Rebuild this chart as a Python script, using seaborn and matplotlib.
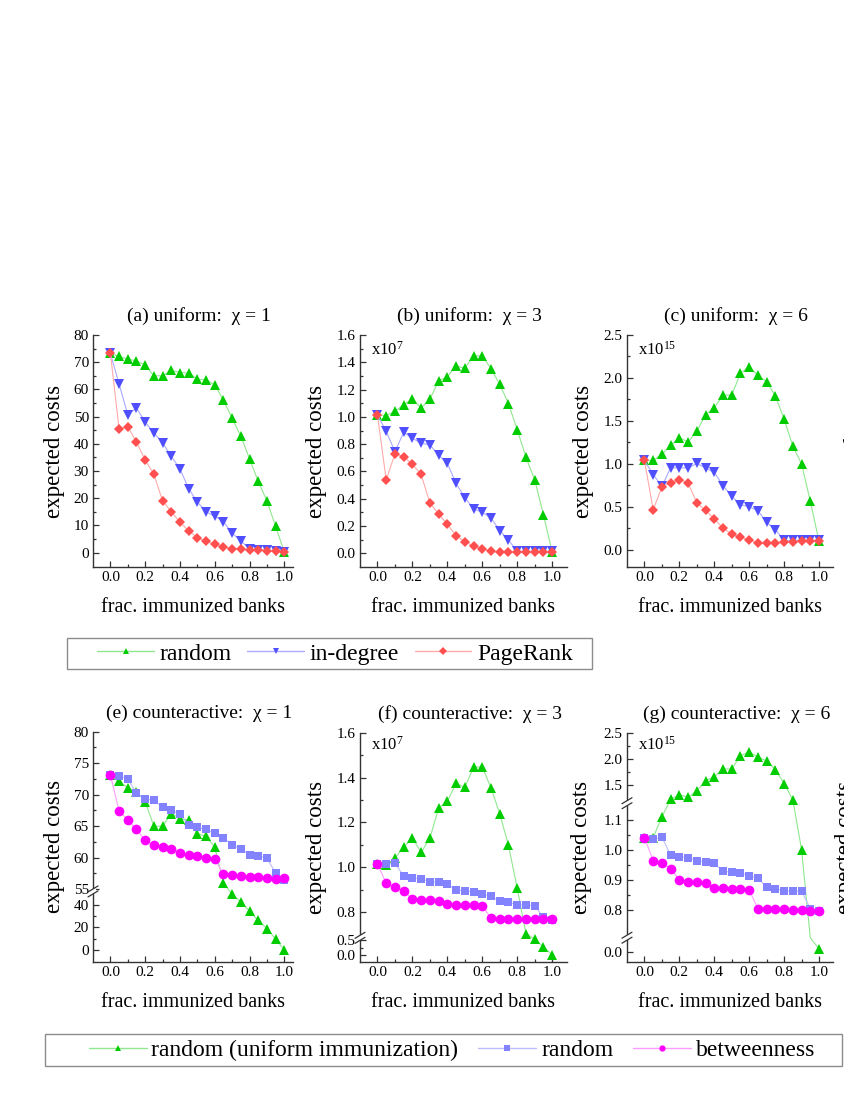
import matplotlib
matplotlib.use("Agg")
import numpy as np
import matplotlib.pyplot as plt
import seaborn as sns
from matplotlib.lines import Line2D
from matplotlib.patches import Rectangle

sns.set_style("ticks")
plt.rcParams["font.family"] = ["Liberation Serif", "DejaVu Serif"]
plt.rcParams["mathtext.fontset"] = "custom"
plt.rcParams["mathtext.rm"] = "Liberation Serif"
plt.rcParams["mathtext.default"] = "regular"
for k in ["text.color", "axes.labelcolor", "xtick.color", "ytick.color"]:
    plt.rcParams[k] = "black"

# ---- data ----
frac = [0.0, 0.05, 0.1, 0.15, 0.2, 0.25, 0.3, 0.35, 0.4, 0.45, 0.5,
        0.55, 0.6, 0.65, 0.7, 0.75, 0.8, 0.85, 0.9, 0.95, 1.0]

# chi = 1
rand_chi1 = [73.2, 72.1, 71.1, 70.5, 68.9, 65.0, 65.0, 67.0, 66.2, 66.0, 63.8,
             63.4, 61.7, 56.0, 49.4, 42.8, 34.5, 26.2, 19.0, 9.7, 0.2]
indeg_chi1 = [73.2, 62.0, 50.7, 53.2, 48.0, 44.0, 40.4, 35.4, 30.8, 23.5, 18.6,
              15.0, 13.3, 11.4, 7.1, 4.4, 1.2, 1.0, 0.8, 0.6, 0.2]
pagerank_chi1 = [73.2, 45.5, 46.3, 40.6, 34.0, 28.8, 19.0, 15.1, 11.1, 8.0, 5.5,
                 4.1, 3.0, 2.0, 1.5, 1.2, 1.0, 0.9, 0.6, 0.5, 0.1]
randsq_chi1 = [73.2, 73.0, 72.5, 70.2, 69.3, 69.1, 68.0, 67.6, 66.9, 65.2, 64.8,
               64.5, 63.9, 63.2, 62.0, 61.4, 60.5, 60.3, 59.9, 57.6, 56.4]
betw_chi1 = [73.2, 67.4, 66.0, 64.5, 62.8, 62.0, 61.7, 61.4, 60.8, 60.4, 60.3,
             60.0, 59.8, 57.4, 57.2, 57.1, 57.0, 56.9, 56.7, 56.6, 56.7]

# chi = 3  (x 1e7)
rand_chi3 = [1.015, 1.01, 1.04, 1.09, 1.13, 1.066, 1.13, 1.263, 1.295, 1.374, 1.356,
             1.447, 1.447, 1.354, 1.238, 1.098, 0.906, 0.704, 0.54, 0.283, 0.01]
indeg_chi3 = [1.015, 0.894, 0.746, 0.886, 0.844, 0.807, 0.795, 0.721, 0.66, 0.512, 0.409,
              0.327, 0.30, 0.26, 0.167, 0.098, 0.015, 0.015, 0.015, 0.015, 0.015]
pagerank_chi3 = [1.015, 0.537, 0.729, 0.709, 0.652, 0.578, 0.369, 0.29, 0.212, 0.13, 0.084,
                 0.054, 0.032, 0.015, 0.007, 0.007, 0.007, 0.007, 0.007, 0.007, 0.007]
randsq_chi3 = [1.015, 1.014, 1.017, 0.962, 0.952, 0.948, 0.936, 0.933, 0.925, 0.899, 0.894,
               0.891, 0.881, 0.871, 0.849, 0.844, 0.832, 0.832, 0.827, 0.778, 0.763]
betw_chi3 = [1.015, 0.928, 0.911, 0.896, 0.859, 0.852, 0.852, 0.849, 0.834, 0.832, 0.830,
             0.830, 0.827, 0.773, 0.770, 0.770, 0.770, 0.770, 0.767, 0.767, 0.767]

# chi = 6  (x 1e15)
rand_chi6 = [1.04, 1.04, 1.11, 1.215, 1.305, 1.254, 1.382, 1.57, 1.655, 1.80, 1.80,
             2.056, 2.13, 2.03, 1.955, 1.79, 1.52, 1.207, 1.0, 0.565, 0.1]
indeg_chi6 = [1.04, 0.876, 0.74, 0.954, 0.954, 0.954, 1.005, 0.954, 0.90, 0.748, 0.623,
              0.526, 0.50, 0.456, 0.32, 0.234, 0.11, 0.11, 0.11, 0.11, 0.11]
pagerank_chi6 = [1.04, 0.467, 0.73, 0.78, 0.818, 0.78, 0.545, 0.46, 0.358, 0.253, 0.183,
                 0.144, 0.117, 0.078, 0.078, 0.078, 0.086, 0.093, 0.097, 0.097, 0.097]
randsq_chi6 = [1.04, 1.035, 1.042, 0.982, 0.976, 0.974, 0.963, 0.960, 0.955, 0.928, 0.925,
               0.923, 0.912, 0.905, 0.875, 0.870, 0.862, 0.862, 0.862, 0.803, 0.795]
betw_chi6 = [1.04, 0.964, 0.955, 0.937, 0.899, 0.891, 0.891, 0.890, 0.873, 0.873, 0.870,
             0.869, 0.866, 0.803, 0.803, 0.802, 0.802, 0.800, 0.798, 0.797, 0.797]

xticks = [0.0, 0.2, 0.4, 0.6, 0.8, 1.0]
xtick_labels = ["0.0", "0.2", "0.4", "0.6", "0.8", "1.0"]
xticks_minor = [0.1, 0.3, 0.5, 0.7, 0.9]

top_labels = ["random", "in-degree", "PageRank"]
bottom_labels = ["random (uniform immunization)", "random", "betweenness"]

# ---- colours ----
GREEN_M, GREEN_L = "#00cc00", "#8fe88f"
BLUE_M, BLUE_L = "#4f4fff", "#aaaaff"
RED_M, RED_L = "#ff4f4f", "#ffaaaa"
PURP_M, PURP_L = "#8383ff", "#bdbdff"
MAG_M, MAG_L = "#ff00ff", "#ff9cff"
AX_C = "#333333"

W, H = 845, 1093
fig = plt.figure(figsize=(W / 100, H / 100), dpi=100)


def add_ax(l, t, r, b):
    return fig.add_axes([l / W, 1 - b / H, (r - l) / W, (b - t) / H])


def piecewise(vals, pix):
    def make(a, b):
        a = np.asarray(a, float)
        b = np.asarray(b, float)
        s0 = (b[1] - b[0]) / (a[1] - a[0])
        s1 = (b[-1] - b[-2]) / (a[-1] - a[-2])

        def f(v):
            v = np.asarray(v, float)
            out = np.interp(v, a, b)
            out = np.where(v < a[0], b[0] + (v - a[0]) * s0, out)
            out = np.where(v > a[-1], b[-1] + (v - a[-1]) * s1, out)
            return out
        return f
    return make(vals, pix), make(pix, vals)


def series(ax, y, line_c, mark_c, marker, ms, gaps=()):
    sns.lineplot(x=frac, y=y, ax=ax, color=line_c, linewidth=0.8, errorbar=None)
    # markers that fall inside an axis break are not shown
    keep = [not any(lo < v < hi for lo, hi in gaps) for v in y]
    xs = [x for x, k in zip(frac, keep) if k]
    ys = [v for v, k in zip(y, keep) if k]
    sns.lineplot(x=xs, y=ys, ax=ax, color=mark_c, linestyle="", marker=marker,
                 markersize=ms, markeredgewidth=0, errorbar=None)


def style(ax, title, xmax, ylab_x, hpx):
    ax.set_xlim(-0.1, xmax)
    ax.set_xticks(xticks, labels=xtick_labels)
    ax.set_xticks(xticks_minor, minor=True)
    sns.despine(ax=ax)
    for s in ("left", "bottom"):
        ax.spines[s].set_color(AX_C)
        ax.spines[s].set_linewidth(1.0)
    ax.tick_params(which="both", direction="in", color=AX_C, width=0.9,
                   labelsize=11, pad=3)
    ax.tick_params(which="major", length=4)
    ax.tick_params(which="minor", length=2.5)
    ax.set_xlabel("frac. immunized banks", fontsize=14.5)
    ax.xaxis.set_label_coords(0.5, -31 / hpx)
    ax.set_ylabel("expected costs", fontsize=16.5)
    ax.yaxis.set_label_coords(ylab_x, 0.5)
    ax.set_title(title, fontsize=14, pad=10, x=0.53)


def break_mark(ax, yv):
    x0, y0 = ax.get_yaxis_transform().transform((0, yv))
    to_fig = fig.transFigure.inverted()
    g0 = to_fig.transform((x0 - 3, y0 - 2.5))
    g1 = to_fig.transform((x0 + 3, y0 + 2.5))
    fig.add_artist(Rectangle(g0, g1[0] - g0[0], g1[1] - g0[1], facecolor="white",
                             edgecolor="none", zorder=5))
    for dy in (-2.5, 2.5):
        p = to_fig.transform([(x0 - 5, y0 + dy - 3), (x0 + 5, y0 + dy + 3)])
        fig.add_artist(Line2D(p[:, 0], p[:, 1], color=AX_C, lw=0.9, zorder=6))


def top_panel(box, title, xmax, ylab_x, d_rand, d_indeg, d_pr, ylim, yt, ytl, ytm, mult=None):
    ax = add_ax(*box)
    series(ax, d_rand, GREEN_L, GREEN_M, "^", 7.5)
    series(ax, d_indeg, BLUE_L, BLUE_M, "v", 7.5)
    series(ax, d_pr, RED_L, RED_M, "D", 5.0)
    style(ax, title, xmax, ylab_x, box[3] - box[1])
    ax.set_ylim(*ylim)
    ax.set_yticks(yt, labels=ytl)
    ax.set_yticks(ytm, minor=True)
    if mult:
        ax.text(0.055, 0.975, "x10$^{%s}$" % mult, transform=ax.transAxes,
                ha="left", va="top", fontsize=12)
    return ax


def bottom_panel(box, title, xmax, ylab_x, d_rand, d_sq, d_bt, vals, pix, gaps,
                 yt, ytl, ytm, mult=None):
    ax = add_ax(*box)
    series(ax, d_rand, GREEN_L, GREEN_M, "^", 7.5, gaps)
    series(ax, d_sq, PURP_L, PURP_M, "s", 6.3, gaps)
    series(ax, d_bt, MAG_L, MAG_M, "o", 7.0, gaps)
    style(ax, title, xmax, ylab_x, box[3] - box[1])
    ax.set_yscale("function", functions=piecewise(vals, pix))
    ax.set_ylim(vals[0], vals[-1])
    ax.set_yticks(yt, labels=ytl)
    ax.set_yticks(ytm, minor=True)
    for lo, hi in gaps:
        break_mark(ax, (lo + hi) / 2)
    if mult:
        ax.text(0.055, 0.985, "x10$^{%s}$" % mult, transform=ax.transAxes,
                ha="left", va="top", fontsize=12)
    return ax


# ---- top row ----
top_panel((93, 335, 293, 567), "(a) uniform:  χ = 1", 1.05, -0.14,
          rand_chi1, indeg_chi1, pagerank_chi1, (-5.3, 80),
          [0, 10, 20, 30, 40, 50, 60, 70, 80],
          ["0", "10", "20", "30", "40", "50", "60", "70", "80"],
          [5, 15, 25, 35, 45, 55, 65, 75])
top_panel((360, 335, 567, 567), "(b) uniform:  χ = 3", 1.085, -0.16,
          rand_chi3, indeg_chi3, pagerank_chi3, (-0.1, 1.6),
          [0.0, 0.2, 0.4, 0.6, 0.8, 1.0, 1.2, 1.4, 1.6],
          ["0.0", "0.2", "0.4", "0.6", "0.8", "1.0", "1.2", "1.4", "1.6"],
          [0.1, 0.3, 0.5, 0.7, 0.9, 1.1, 1.3, 1.5], mult="7")
top_panel((627, 335, 833, 567), "(c) uniform:  χ = 6", 1.08, -0.16,
          rand_chi6, indeg_chi6, pagerank_chi6, (-0.2, 2.5),
          [0.0, 0.5, 1.0, 1.5, 2.0, 2.5],
          ["0.0", "0.5", "1.0", "1.5", "2.0", "2.5"],
          [0.25, 0.75, 1.25, 1.75, 2.25], mult="15")

# ---- bottom row (broken y axes) ----
bottom_panel((93, 731.7, 293, 961.7), "(e) counteractive:  χ = 1", 1.05, -0.14,
             rand_chi1, randsq_chi1, betw_chi1,
             [-10.4, 50, 55, 80], [0, 68, 72.5, 230], [(50, 55)],
             [0, 20, 40, 55, 60, 65, 70, 75, 80],
             ["0", "20", "40", "55", "60", "65", "70", "75", "80"],
             [10, 30, 57.5, 62.5, 67.5, 72.5, 77.5])
bottom_panel((360, 732.7, 567, 961.7), "(f) counteractive:  χ = 3", 1.085, -0.16,
             rand_chi3, randsq_chi3, betw_chi3,
             [-0.23, 0.55, 0.69, 1.6], [0, 22.7, 25, 229], [(0.55, 0.69)],
             [0.0, 0.5, 0.8, 1.0, 1.2, 1.4, 1.6],
             ["0.0", "0.5", "0.8", "1.0", "1.2", "1.4", "1.6"],
             [0.25, 0.9, 1.1, 1.3, 1.5], mult="7")
bottom_panel((627, 732.7, 833, 961.7), "(g) counteractive:  χ = 6", 1.08, -0.17,
             rand_chi6, randsq_chi6, betw_chi6,
             [-0.35, 0.45, 0.71, 1.15, 1.17, 2.5], [0, 23, 25, 157, 160, 229],
             [(0.45, 0.71), (1.15, 1.17)],
             [0.0, 0.8, 0.9, 1.0, 1.1, 1.5, 2.0, 2.5],
             ["0.0", "0.8", "0.9", "1.0", "1.1", "1.5", "2.0", "2.5"],
             [0.85, 0.95, 1.05, 1.75, 2.25], mult="15")

# label of the next (cut-off) column, only its edge shows in the reference
fig.text(865 / W, 1 - 451 / H, "expected costs", rotation=90, rotation_mode="anchor",
         ha="center", va="bottom", fontsize=16.5)
fig.text(856 / W, 1 - 847 / H, "expected costs", rotation=90, rotation_mode="anchor",
         ha="center", va="bottom", fontsize=16.5)

# ---- legends ----
top_handles = [
    Line2D([], [], color=GREEN_L, lw=1, marker="^", ms=5, mfc=GREEN_M, mew=0),
    Line2D([], [], color=BLUE_L, lw=1, marker="v", ms=5, mfc=BLUE_M, mew=0),
    Line2D([], [], color=RED_L, lw=1, marker="D", ms=3.6, mfc=RED_M, mew=0),
]
fig.legend(handles=top_handles, labels=top_labels, loc="center",
           bbox_to_anchor=(335 / W, 1 - 654 / H), ncol=3, frameon=False, fontsize=17,
           handlelength=2.4, handletextpad=0.25, columnspacing=0.65,
           borderpad=0, borderaxespad=0)
fig.add_artist(Rectangle((67 / W, 1 - 669 / H), (592 - 67) / W, 31 / H,
                         transform=fig.transFigure, fill=False,
                         edgecolor="#8c8c8c", lw=1))

bottom_handles = [
    Line2D([], [], color=GREEN_L, lw=1, marker="^", ms=5, mfc=GREEN_M, mew=0),
    Line2D([], [], color=PURP_L, lw=1, marker="s", ms=4, mfc=PURP_M, mew=0),
    Line2D([], [], color=MAG_L, lw=1, marker="o", ms=4.5, mfc=MAG_M, mew=0),
]
fig.legend(handles=bottom_handles, labels=bottom_labels, loc="center",
           bbox_to_anchor=(452 / W, 1 - 1050 / H), ncol=3, frameon=False, fontsize=17,
           handlelength=2.45, handletextpad=0.2, columnspacing=0.85,
           borderpad=0, borderaxespad=0)
fig.add_artist(Rectangle((45 / W, 1 - 1066 / H), (842 - 45) / W, 32 / H,
                         transform=fig.transFigure, fill=False,
                         edgecolor="#8c8c8c", lw=1))

fig.savefig("out.png", dpi=100)
